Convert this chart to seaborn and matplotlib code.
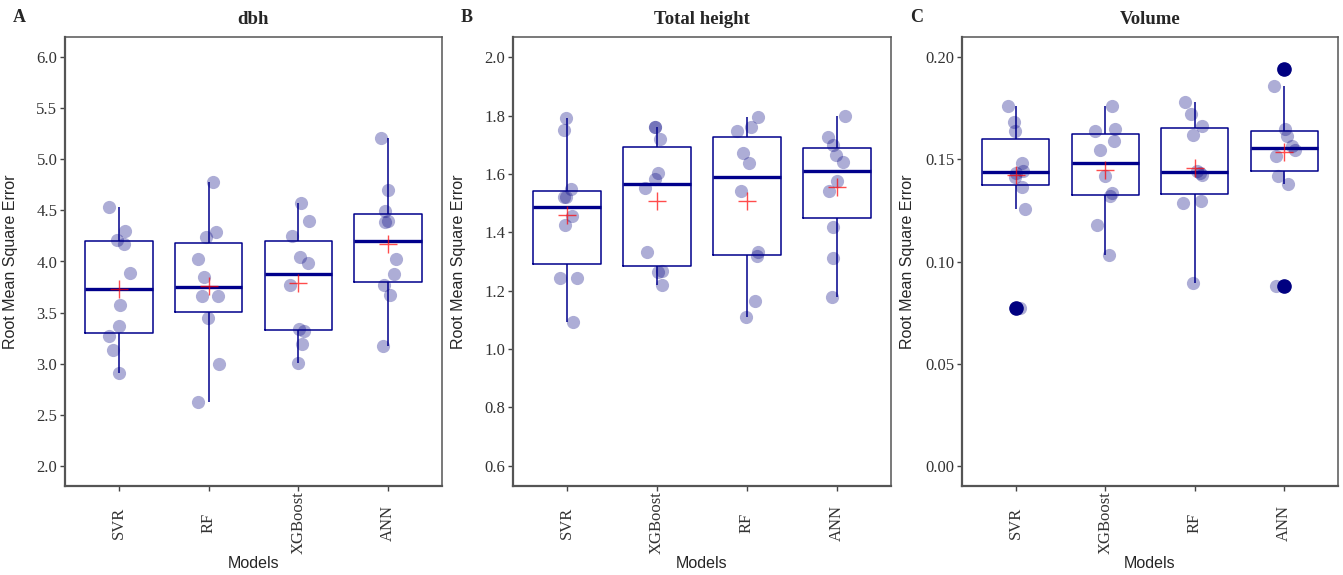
import numpy as np
import pandas as pd
import matplotlib.pyplot as plt
import seaborn as sns

# RMSE per model (10 folds each)
dbh_svr = [4.53, 4.30, 4.21, 4.17, 3.89, 3.57, 3.37, 3.27, 3.13, 2.91]
dbh_rf = [4.78, 4.29, 4.24, 4.02, 3.85, 3.66, 3.66, 3.45, 3.00, 2.62]
dbh_xgb = [4.57, 4.40, 4.25, 4.04, 3.99, 3.77, 3.34, 3.32, 3.19, 3.01]
dbh_ann = [5.21, 4.70, 4.49, 4.40, 4.39, 4.02, 3.88, 3.77, 3.67, 3.17]

ht_svr = [1.793, 1.752, 1.547, 1.522, 1.520, 1.456, 1.424, 1.245, 1.245, 1.092]
ht_xgb = [1.763, 1.763, 1.721, 1.602, 1.582, 1.551, 1.334, 1.269, 1.263, 1.220]
ht_rf = [1.795, 1.763, 1.747, 1.672, 1.638, 1.543, 1.334, 1.320, 1.164, 1.110]
ht_ann = [1.798, 1.727, 1.699, 1.664, 1.642, 1.577, 1.543, 1.420, 1.312, 1.177]

vol_svr = [0.1763, 0.1682, 0.1638, 0.1481, 0.1445, 0.1432, 0.1412, 0.1363, 0.1257, 0.0773]
vol_xgb = [0.1763, 0.1649, 0.1638, 0.1589, 0.1546, 0.1421, 0.1336, 0.1323, 0.1180, 0.1032]
vol_rf = [0.1783, 0.1723, 0.1665, 0.1620, 0.1442, 0.1435, 0.1426, 0.1298, 0.1285, 0.0893]
vol_ann = [0.1943, 0.1858, 0.1649, 0.1613, 0.1568, 0.1546, 0.1519, 0.1421, 0.1380, 0.0882]

order_dbh = ["SVR", "RF", "XGBoost", "ANN"]
order_other = ["SVR", "XGBoost", "RF", "ANN"]

panels = [
    ("A", "dbh", order_dbh, [dbh_svr, dbh_rf, dbh_xgb, dbh_ann],
     (1.8, 6.2), [2.0, 2.5, 3.0, 3.5, 4.0, 4.5, 5.0, 5.5, 6.0], "{:.1f}"),
    ("B", "Total height", order_other, [ht_svr, ht_xgb, ht_rf, ht_ann],
     (0.53, 2.07), [0.6, 0.8, 1.0, 1.2, 1.4, 1.6, 1.8, 2.0], "{:.1f}"),
    ("C", "Volume", order_other, [vol_svr, vol_xgb, vol_rf, vol_ann],
     (-0.01, 0.21), [0.00, 0.05, 0.10, 0.15, 0.20], "{:.2f}"),
]

sns.set_style("white")
plt.rcParams["font.family"] = ["Liberation Serif", "DejaVu Serif"]

fig = plt.figure(figsize=(13.43, 5.75), dpi=100)
lefts = [65, 513, 962]
widths = [377, 378, 376]
np.random.seed(7)

for (tag, title, order, vals, ylim, yticks, fmt), left, width in zip(panels, lefts, widths):
    ax = fig.add_axes([left / 1343, 89 / 575, width / 1343, 449 / 575])
    df = pd.DataFrame({
        "Models": np.repeat(order, [len(v) for v in vals]),
        "rmse": np.concatenate(vals),
    })

    sns.stripplot(data=df, x="Models", y="rmse", order=order, ax=ax,
                  jitter=0.13, color="navy", alpha=0.32, size=9.5,
                  linewidth=0, zorder=1)
    sns.boxplot(data=df, x="Models", y="rmse", order=order, ax=ax,
                width=0.75, fill=False, color="darkblue", linewidth=1.1,
                showcaps=False, whis=1.5,
                medianprops=dict(linewidth=2.4, color="darkblue"),
                flierprops=dict(marker="o", markerfacecolor="navy",
                                markeredgecolor="navy", markersize=9.5, zorder=4),
                showmeans=True,
                meanprops=dict(marker="+", markeredgecolor="red", markersize=13,
                               markeredgewidth=1.0, alpha=0.7, zorder=5))

    ax.set_xlim(-0.6, 3.6)
    ax.set_ylim(*ylim)
    ax.set_yticks(yticks)
    ax.set_yticklabels([fmt.format(t) for t in yticks], fontsize=12, color="#333333")
    ax.set_xticks(range(4))
    ax.set_xticklabels(order, rotation=90, fontsize=12, color="#333333", va="center")
    ax.tick_params(axis="both", length=3.5, width=1, color="#444444",
                   bottom=True, left=True, pad=2)
    ax.tick_params(axis="x", pad=23)
    for s in ax.spines.values():
        s.set_color("#555555")
        s.set_linewidth(1.1)
    ax.spines["left"].set_linewidth(1.6)
    ax.spines["bottom"].set_linewidth(1.6)

    ax.set_ylabel("Root Mean Square Error", family="Liberation Sans", fontsize=11.5)
    ax.set_xlabel("Models", family="Liberation Sans", fontsize=11.5)
    ax.yaxis.set_label_coords(-0.125, 0.5)
    ax.xaxis.set_label_coords(0.5, -0.155)
    ax.set_title(title, fontsize=13.5, fontweight="bold", pad=9)
    fig.text((left - 52) / 1343, 1 - 18 / 575, tag, fontsize=13,
             fontweight="bold", va="center", ha="left")

plt.savefig("out.png", dpi=100)
